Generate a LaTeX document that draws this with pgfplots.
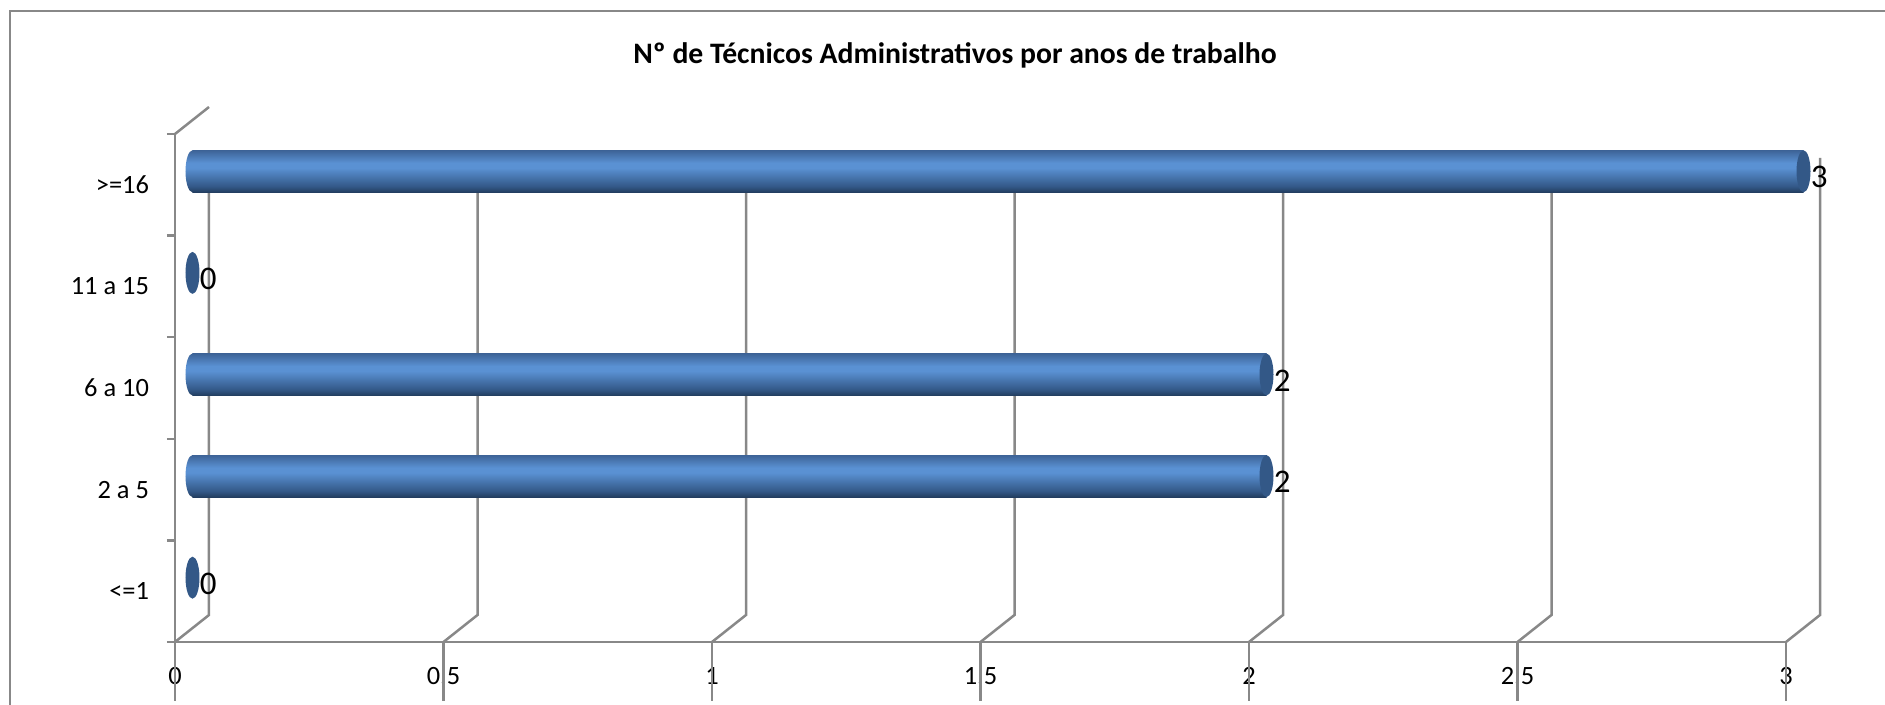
\documentclass[border=0pt]{standalone}
\usepackage{pgfplots}
\pgfplotsset{compat=1.18}
\usepackage{pgfplotstable}
\usepackage{fontspec}
\setmainfont{Carlito}
\definecolor{gridgr}{HTML}{888888}
\definecolor{barmid}{HTML}{5A91D3}
\definecolor{bartop}{HTML}{3D6397}
\definecolor{barbot}{HTML}{223D5F}
\definecolor{capcol}{HTML}{335887}
% the middle 50bp of a shading is what fits the path
\pgfdeclareverticalshading{barshade}{100bp}{
  color(0bp)=(barbot); color(25bp)=(barbot); color(32bp)=(capcol);
  color(42bp)=(capcol!55!barmid); color(54bp)=(barmid); color(60bp)=(barmid);
  color(75bp)=(bartop); color(100bp)=(bartop)}
\pgfdeclareplotmark{barcap}{%
  \pgfpathellipse{\pgfpointorigin}{\pgfqpoint{3.5pt}{0pt}}{\pgfqpoint{0pt}{10.5pt}}%
  \pgfshadepath{barshade}{0}\pgfusepath{discard}}
\pgfdeclareplotmark{endcap}{%
  \pgfpathellipse{\pgfpointorigin}{\pgfqpoint{3.5pt}{0pt}}{\pgfqpoint{0pt}{10.5pt}}%
  \pgfsetfillcolor{capcol}\pgfusepath{fill}}
% 1 px of the reference = 0.5pt
\pgfplotstableread{
y v
1 0
2 2
3 2
4 0
5 3
}\mydata
\pgfplotsset{depth/.style={xshift=8.75pt,yshift=6.75pt,forget plot},
  onebar/.style={xbar,bar width=21pt,draw=none,shading=barshade,bar shift=0pt,depth}}
\begin{document}
\begin{tikzpicture}[x=0.5pt,y=0.5pt]
\useasboundingbox (0,0) rectangle (1885,705);
\draw[gridgr,line width=1pt] (10,0) -- (10,694) -- (1885,694);
\node[font=\fontsize{14.85}{17}\selectfont\bfseries] at (955,650) {Nº de Técnicos Administrativos por anos de trabalho};
\begin{axis}[
    at={(87.5pt,31.5pt)},anchor=south west,
    scale only axis,
    width=805.5pt,height=254pt,
    xmin=0,xmax=3,ymin=0.5,ymax=5.5,
    axis x line*=bottom,axis y line*=left,
    axis line style={gridgr,line width=1.25pt,-},
    xtick={0,0.5,1,1.5,2,2.5,3},
    xticklabels={0,{0,5},1,{1,5},2,{2,5},3},
    ytick={0.5,1.5,2.5,3.5,4.5,5.5},
    yticklabels={},
    extra y ticks={1,2,3,4,5},
    extra y tick labels={<=1,2 a 5,6 a 10,11 a 15,>=16},
    extra y tick style={major tick length=0pt,
      yticklabel style={xshift=-9.5pt}},
    tick align=outside,
    tick style={draw=gridgr,line width=1.25pt},
    major tick length=4pt,
    ticklabel style={font=\fontsize{13.2}{15}\selectfont,text=black},
    /pgf/number format/assume math mode=true,
    xticklabel style={yshift=-5pt},
    clip=false,
]
% back wall and x ticks
\pgfplotsinvokeforeach{0,0.5,1,1.5,2,2.5,3}{
  \draw[gridgr,line width=1.25pt] (axis cs:#1,0.5) -- ++(17pt,13.5pt) -- ++(0,254pt);
  \draw[gridgr,line width=1.25pt] (axis cs:#1,0.5) -- ++(0,-4pt);
}
\draw[gridgr,line width=1.25pt] (axis cs:0,5.5) -- ++(17pt,13.5pt);
% left ends of the bars
\addplot[only marks,mark=barcap,depth] coordinates {(0,2) (0,3) (0,5)};
% bars, one plot each so that each gets the whole shading
\addplot[onebar] coordinates {(2,2)};
\addplot[onebar] coordinates {(2,3)};
\addplot[onebar] coordinates {(3,5)};
% end caps with value labels
\addplot[only marks,mark=endcap,depth,
  point meta=x,
  nodes near coords,
  nodes near coords style={font=\fontsize{16.5}{18}\selectfont,text=black,anchor=west,
    xshift=3.5pt,yshift=-3pt,inner sep=0pt,/pgf/number format/assume math mode=true}]
  table[x=v,y=y]{\mydata};
\end{axis}
\end{tikzpicture}
\end{document}
